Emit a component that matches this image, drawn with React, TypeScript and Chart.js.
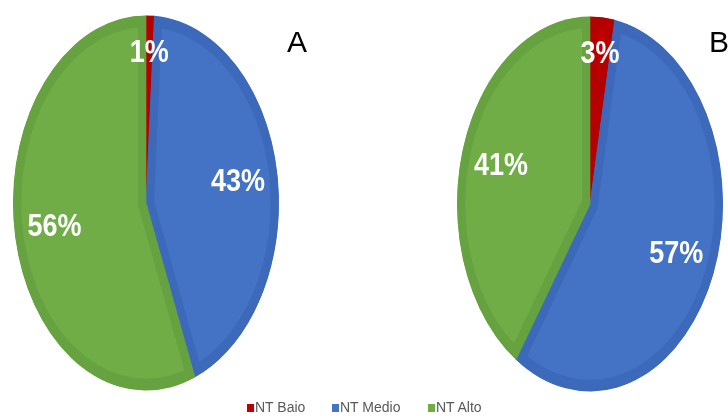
import { useEffect, useRef } from "react";
import { Chart, ArcElement, PieController } from "chart.js";

Chart.register(ArcElement, PieController);

// Categories and percentages for the two groups
const categories = ["NT Baio", "NT Medio", "NT Alto"];
const valuesA = [1, 43, 56];
const valuesB = [3, 57, 41];
const panelTitles = ["A", "B"];

const fillColors = ["#c00000", "#4472c4", "#70ad47"];
const edgeColors = ["#b50000", "#3d69bb", "#66a23f"];

// The pies are drawn as ellipses: circles stretched vertically
const STRETCH_Y = 1.41;
// Percent labels are slightly condensed too
const LABEL_STRETCH_Y = 1.18;

const stretchAndLabel = {
  id: "stretchAndLabel",
  beforeDatasetsDraw(chart: any) {
    const arc = chart.getDatasetMeta(0).data[0];
    const { x, y } = arc;
    const ctx = chart.ctx;
    ctx.save();
    ctx.translate(x, y);
    ctx.scale(1, STRETCH_Y);
    ctx.translate(-x, -y);
  },
  afterDatasetsDraw(chart: any) {
    const ctx = chart.ctx;
    ctx.restore();
    const meta = chart.getDatasetMeta(0);
    const values: number[] = chart.data.datasets[0].data;
    const total = values.reduce((a, b) => a + b, 0);
    meta.data.forEach((arc: any, i: number) => {
      const { x, y, startAngle, endAngle, outerRadius } = arc.getProps(
        ["x", "y", "startAngle", "endAngle", "outerRadius"],
        true
      );
      const mid = (startAngle + endAngle) / 2;
      // thin slices get their label pushed toward the rim
      const frac = values[i] / total < 0.05 ? 0.8 : 0.7;
      const lx = x + Math.cos(mid) * outerRadius * frac;
      const ly = y + Math.sin(mid) * outerRadius * frac * STRETCH_Y;
      ctx.save();
      ctx.translate(lx, ly);
      ctx.scale(1, LABEL_STRETCH_Y);
      ctx.fillStyle = "#ffffff";
      ctx.font = "bold 27px 'Liberation Sans', Arial, sans-serif";
      ctx.textAlign = "center";
      ctx.textBaseline = "middle";
      ctx.fillText(values[i] + "%", 0, 0);
      ctx.restore();
    });
  },
};

function PieCanvas({ values, left, top }: { values: number[]; left: number; top: number }) {
  const ref = useRef<HTMLCanvasElement>(null);
  useEffect(() => {
    if (!ref.current) return;
    const chart = new Chart(ref.current, {
      type: "pie",
      data: {
        labels: categories,
        datasets: [
          {
            data: values,
            backgroundColor: fillColors,
            borderColor: edgeColors,
            borderWidth: 8,
            borderAlign: "inner",
            radius: 133,
          } as any,
        ],
      },
      options: {
        responsive: false,
        animation: false,
        events: [],
        layout: { padding: 0 },
        plugins: { legend: { display: false }, tooltip: { enabled: false } },
      } as any,
      plugins: [stretchAndLabel],
    });
    return () => chart.destroy();
  }, [values]);
  return (
    <canvas
      ref={ref}
      width={292}
      height={406}
      style={{ position: "absolute", left, top, width: 292, height: 406 }}
    />
  );
}

const legendLeft = [247, 332, 428];

export default function App() {
  return (
    <div
      style={{
        position: "absolute",
        left: 0,
        top: 0,
        width: 728,
        height: 416,
        overflow: "hidden",
        background: "#ffffff",
        fontFamily: "'Liberation Sans', Arial, sans-serif",
      }}
    >
      <PieCanvas values={valuesA} left={0} top={0} />
      <PieCanvas values={valuesB} left={444} top={1} />
      {panelTitles.map((t, i) => (
        <div
          key={t}
          style={{
            position: "absolute",
            left: i === 0 ? 287 : 709,
            top: 27,
            fontSize: 30,
            lineHeight: "30px",
            color: "#000000",
          }}
        >
          {t}
        </div>
      ))}
      {categories.map((c, i) => (
        <div
          key={c}
          style={{
            position: "absolute",
            left: legendLeft[i],
            top: 400,
            display: "flex",
            alignItems: "center",
            fontSize: 14,
            lineHeight: "14px",
            color: "#595959",
            whiteSpace: "nowrap",
          }}
        >
          <span
            style={{
              display: "inline-block",
              width: 7,
              height: 8,
              background: fillColors[i],
              marginRight: 1,
              marginTop: 2,
            }}
          />
          <span>{c}</span>
        </div>
      ))}
    </div>
  );
}
